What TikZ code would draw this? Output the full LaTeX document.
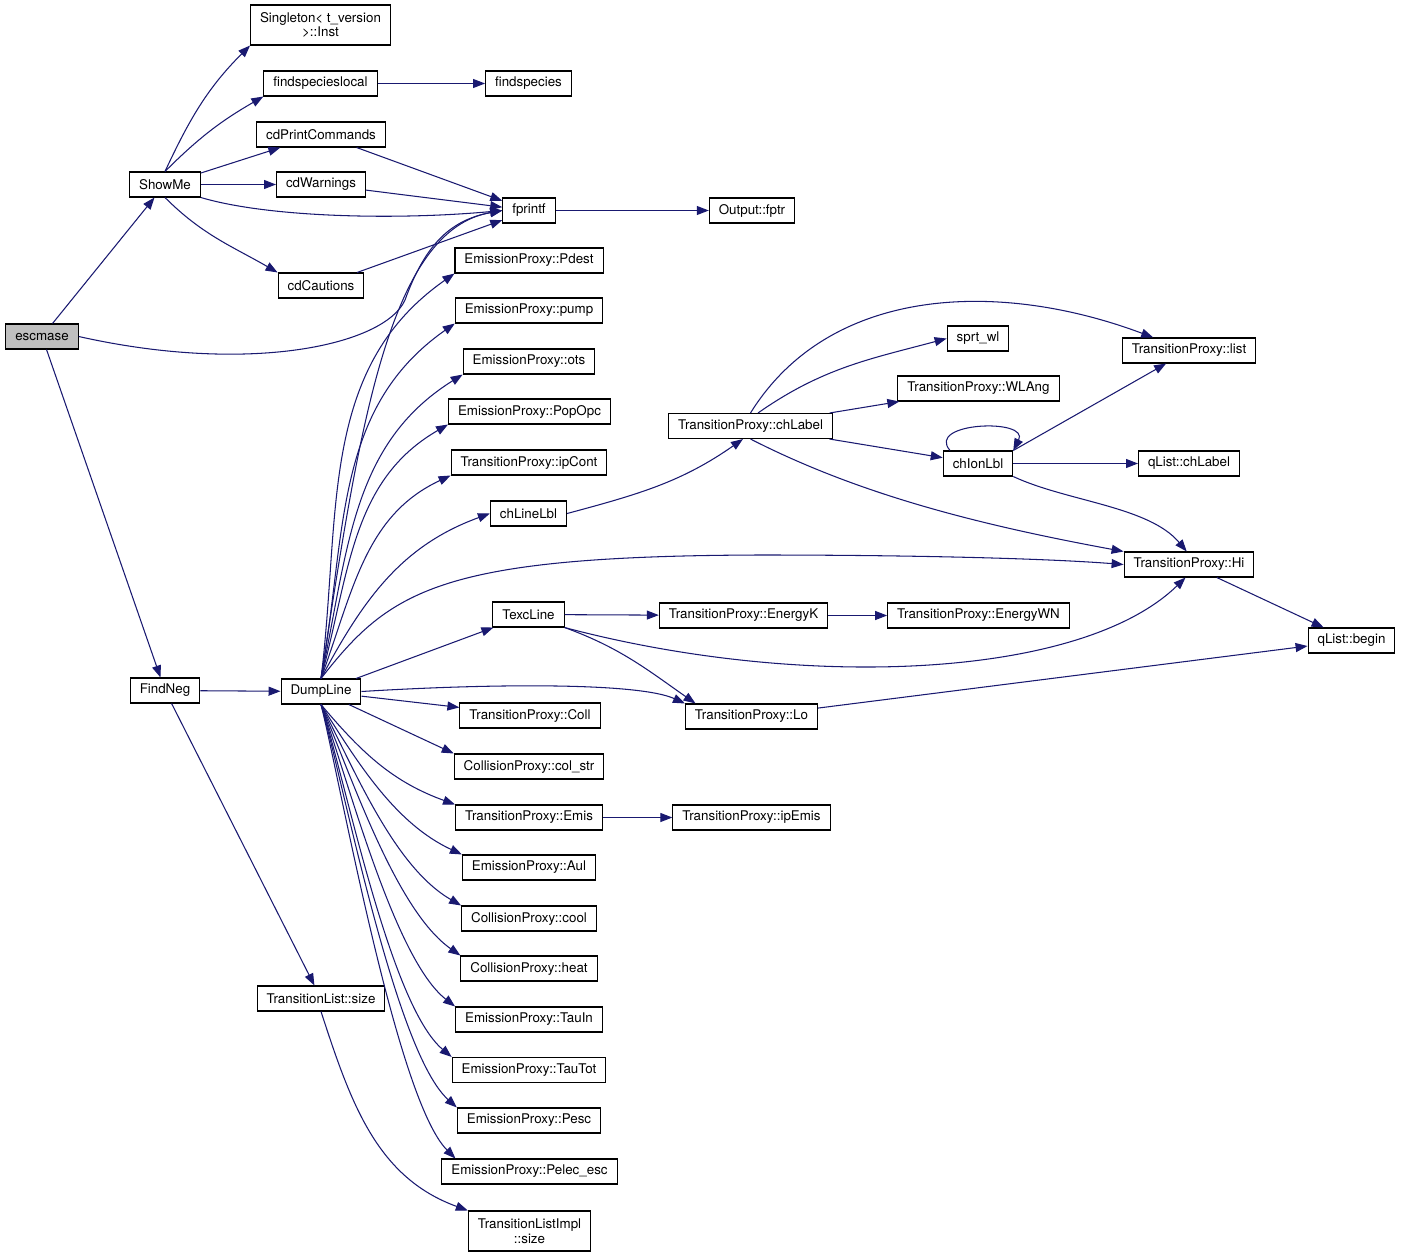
\documentclass[tikz,border=0pt]{standalone}
\usepackage{fontspec}
\setmainfont{TeX Gyre Heros}
\usetikzlibrary{arrows.meta}
\definecolor{edgeblue}{RGB}{25,25,112}
\tikzset{
    func/.style={draw, rectangle, fill=white, line width=0.6pt, minimum height=0.5cm, inner xsep=0.19cm, inner ysep=0pt, align=center, font=\fontsize{7.6}{8.5}\selectfont},
    call/.style={draw=edgeblue, line width=0.6pt, -{Triangle[length=2.4mm,width=1.8mm]}}
}

\begin{document}
\begin{tikzpicture}[x=0.02cm, y=-0.02cm]
\useasboundingbox (0,0) rectangle (1403,1257);
% left side
\node[func, fill=black!25] (escmase) at (42,336.5) {escmase};
\node[func] (showme) at (165,184.5) {ShowMe};
\node[func] (findneg) at (165,690.5) {FindNeg};
\node[func, minimum height=0.8cm] (inst) at (320.5,25) {Singleton\textless{} t\_version\\\textgreater{}::Inst};
\node[func] (fslocal) at (320.5,83.5) {findspecieslocal};
\node[func] (fspecies) at (528.5,83.5) {findspecies};
\node[func] (cdprint) at (321,134.5) {cdPrintCommands};
\node[func] (cdwarn) at (321,184.5) {cdWarnings};
\node[func] (cdcaut) at (321,285.5) {cdCautions};
\node[func] (dumpline) at (321,691.5) {DumpLine};
\node[func] (tlsize) at (321,998.5) {TransitionList::size};
% middle column
\node[func] (fprintf) at (529,210.5) {fprintf};
\node[func] (fptr) at (752,210.5) {Output::fptr};
\node[func] (pdest) at (529,260.5) {EmissionProxy::Pdest};
\node[func] (pump) at (529,310.5) {EmissionProxy::pump};
\node[func] (ots) at (529,361.5) {EmissionProxy::ots};
\node[func] (popopc) at (529.5,411.5) {EmissionProxy::PopOpc};
\node[func] (ipcont) at (529,462.5) {TransitionProxy::ipCont};
\node[func] (chlinelbl) at (528.5,513.5) {chLineLbl};
\node[func] (texcline) at (528.5,614.5) {TexcLine};
\node[func] (coll) at (530,715.5) {TransitionProxy::Coll};
\node[func] (colstr) at (529,766.5) {CollisionProxy::col\_str};
\node[func] (emis) at (529,817.5) {TransitionProxy::Emis};
\node[func] (aul) at (529,867.5) {EmissionProxy::Aul};
\node[func] (cool) at (529,918.5) {CollisionProxy::cool};
\node[func] (heat) at (529,968.5) {CollisionProxy::heat};
\node[func] (tauin) at (529,1019.5) {EmissionProxy::TauIn};
\node[func] (tautot) at (529,1070) {EmissionProxy::TauTot};
\node[func] (pesc) at (529,1120.5) {EmissionProxy::Pesc};
\node[func] (pelec) at (529.5,1171.5) {EmissionProxy::Pelec\_esc};
\node[func, minimum height=0.8cm] (tlimpl) at (529.5,1231) {TransitionListImpl\\::size};
% right side
\node[func] (chlabel) at (750.5,426) {TransitionProxy::chLabel};
\node[func] (energyk) at (743.5,615.5) {TransitionProxy::EnergyK};
\node[func] (lo) at (751.5,716.5) {TransitionProxy::Lo};
\node[func] (ipemis) at (751.5,817.5) {TransitionProxy::ipEmis};
\node[func] (sprtwl) at (978,338.5) {sprt\_wl};
\node[func] (wlang) at (978.5,388.5) {TransitionProxy::WLAng};
\node[func] (chionlbl) at (978,463.5) {chIonLbl};
\node[func] (energywn) at (978.5,615.5) {TransitionProxy::EnergyWN};
\node[func] (list) at (1189,350.5) {TransitionProxy::list};
\node[func] (qchlabel) at (1189,463.5) {qList::chLabel};
\node[func] (hi) at (1189,564.5) {TransitionProxy::Hi};
\node[func] (qbegin) at (1351.5,640.5) {qList::begin};

% calls from escmase and ShowMe
\draw[call] (escmase) -- (showme);
\draw[call] (escmase) -- (findneg);
\draw[call] (escmase.east) .. controls (250,375) and (385,345) .. (405,300) .. controls (425,245) and (450,220) .. (fprintf.west);
\draw[call] (showme.north) to[out=65,in=225] (inst.south west);
\draw[call] (showme.north) to[out=45,in=210] (fslocal.south west);
\draw[call] (showme) -- (cdprint);
\draw[call] (showme) -- (cdwarn);
\draw[call] (showme.south east) .. controls (270,218) and (400,220) .. (fprintf.west);
\draw[call] (showme.south) to[out=-45,in=150] (cdcaut.north west);
\draw[call] (fslocal) -- (fspecies);
\draw[call] (cdprint) -- (fprintf);
\draw[call] (cdwarn) -- (fprintf);
\draw[call] (cdcaut) -- (fprintf);
\draw[call] (fprintf) -- (fptr);
% calls from FindNeg
\draw[call] (findneg) -- (dumpline);
\draw[call] (findneg) -- (tlsize);
\draw[call] (tlsize.south) to[out=-72,in=160] (tlimpl.north west);
% calls from DumpLine, upwards
\draw[call] (dumpline.north) .. controls (360,420) and (390,230) .. (fprintf.west);
\draw[call] (dumpline.north) to[out=83,in=215] (pdest.south west);
\draw[call] (dumpline.north) to[out=80,in=215] (pump.south west);
\draw[call] (dumpline.north) to[out=78,in=212] (ots.south west);
\draw[call] (dumpline.north) to[out=75,in=210] (popopc.south west);
\draw[call] (dumpline.north) to[out=70,in=205] (ipcont.south west);
\draw[call] (dumpline.north) to[out=62,in=200] (chlinelbl.west);
\draw[call] (dumpline.north) .. controls (390,590) and (440,556) .. (760,555) .. controls (900,555) and (1040,558) .. (hi.west);
\draw[call] (dumpline) -- (texcline);
\draw[call] (dumpline.east) .. controls (500,683) and (640,683) .. (lo.north west);
% calls from DumpLine, downwards
\draw[call] (dumpline) -- (coll);
\draw[call] (dumpline) -- (colstr.north west);
\draw[call] (dumpline.south) to[out=-50,in=160] (emis.north west);
\draw[call] (dumpline.south) to[out=-58,in=155,looseness=0.9] (aul.north west);
\draw[call] (dumpline.south) to[out=-63,in=150,looseness=0.8] (cool.north west);
\draw[call] (dumpline.south) to[out=-67,in=145,looseness=0.7] (heat.north west);
\draw[call] (dumpline.south) to[out=-70,in=142,looseness=0.6] (tauin.north west);
\draw[call] (dumpline.south) to[out=-72,in=140,looseness=0.55] (tautot.north west);
\draw[call] (dumpline.south) to[out=-74,in=138,looseness=0.5] (pesc.north west);
\draw[call] (dumpline.south) to[out=-76,in=135,looseness=0.45] ([xshift=8pt]pelec.north west);
% right part
\draw[call] (chlinelbl.east) to[out=15,in=215] (chlabel.-120);
\draw[call] (chlabel.north) .. controls (830,285) and (1000,280) .. (list.160);
\draw[call] (chlabel.60) to[out=35,in=195] (sprtwl.west);
\draw[call] (chlabel) -- (wlang);
\draw[call] (chlabel) -- (chionlbl);
\draw[call] (chlabel.south) .. controls (860,495) and (980,525) .. (hi.north west);
\draw[call] (chionlbl.155) .. controls (925,422) and (1030,418) .. (chionlbl.north east);
\draw[call] (chionlbl.north east) -- (list);
\draw[call] (chionlbl) -- (qchlabel);
\draw[call] (chionlbl.south east) to[out=-25,in=130,looseness=0.8] (hi.100);
\draw[call] (texcline) -- (energyk);
\draw[call] (energyk) -- (energywn);
\draw[call] (texcline.south east) .. controls (800,690) and (1080,680) .. (hi.-105);
\draw[call] (texcline.south east) to[out=-20,in=145] ([xshift=6pt]lo.north west);
\draw[call] (hi) -- (qbegin);
\draw[call] (lo) -- (qbegin);
\draw[call] (emis) -- (ipemis);
\end{tikzpicture}
\end{document}
